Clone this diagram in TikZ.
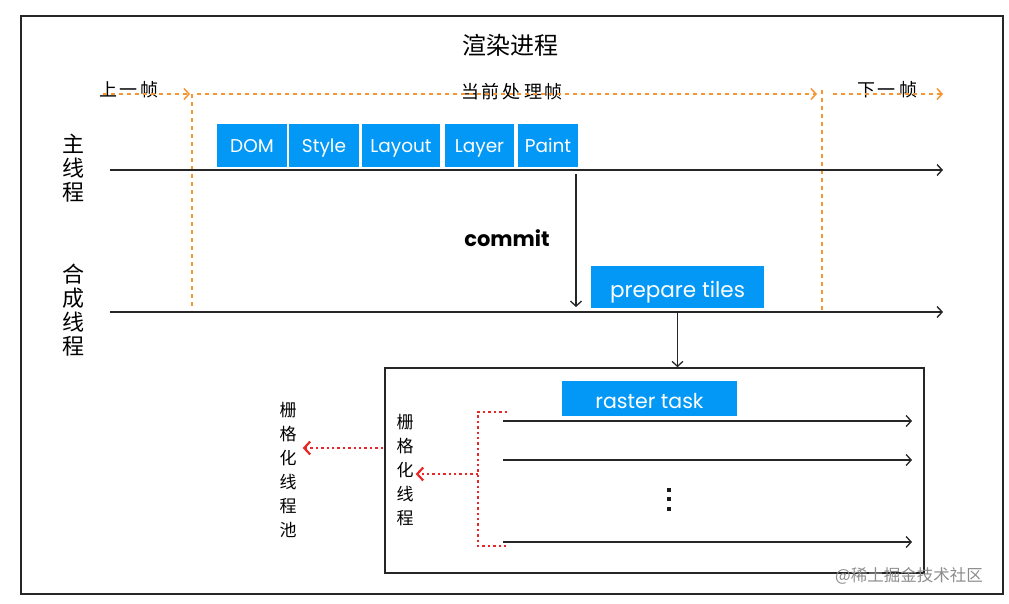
\documentclass[tikz,border=0pt]{standalone}
\usepackage{fontspec}
\setmainfont{Poppins}
\newfontfamily\cjk{Noto Sans CJK SC}
\usetikzlibrary{arrows.meta}
\definecolor{tblue}{RGB}{3,152,246}
\definecolor{tor}{RGB}{245,150,50}
\definecolor{tred}{RGB}{232,40,40}
\tikzset{
  box/.style={fill=tblue, text=white, inner sep=0pt, text height=17pt, text depth=2pt, font=\fontsize{18.5}{20}\selectfont},
  frameline/.style={draw=tor, line width=1.5pt, dash pattern=on 4pt off 4pt},
  framearr/.style={frameline, -{Straight Barb[length=5pt,width=11pt,line width=1.5pt]}},
  axis/.style={draw=black!85, line width=1.6pt, -{Straight Barb[length=5pt,width=11pt,line width=1.4pt]}},
  thin/.style={draw=black!85, line width=1.3pt, -{Straight Barb[length=5pt,width=11pt,line width=1.3pt]}},
  reddot/.style={draw=tred, line width=2.4pt, dash pattern=on 2.4pt off 3pt},
  redarr/.style={reddot, -{Straight Barb[length=6pt,width=13pt,line width=2.2pt]}},
  cjklab/.style={font=\cjk\fontsize{18}{19}\selectfont, inner sep=0pt},
  vlab/.style={font=\cjk\fontsize{17}{24}\selectfont, align=center, inner sep=0pt},
  vdot/.style={fill=black!90},
}
\begin{document}
\begin{tikzpicture}[x=1pt,y=-1pt]
\useasboundingbox (0,0) rectangle (1009,604);
% outer frame
\node[draw=black!85, line width=1.5pt, minimum width=982pt, minimum height=578pt, inner sep=0pt] (frame) at (512,305) {};
% title
\node[font=\cjk\fontsize{24}{26}\selectfont] (title) at (510,45) {渲染进程};
% frame labels
\node[cjklab] (prev) at (129,90) {上\,一\,帧};
\node[cjklab] (cur) at (512,92) {当\,前\,处\,理\,帧};
\node[cjklab] (next) at (887,90) {下\,一\,帧};
\coordinate (p0) at (103,94);
\coordinate (p1) at (190,94);
\coordinate (c0) at (197,94);
\coordinate (c1) at (817,94);
\coordinate (n0) at (833,94);
\coordinate (n1) at (943,94);
\coordinate (v1t) at (192,94);
\coordinate (v1b) at (192,310);
\coordinate (v2t) at (822,90);
\coordinate (v2b) at (822,310);
\draw[framearr] (p0) -- (p1);
\draw[framearr] (c0) -- (c1);
\draw[framearr] (n0) -- (n1);
\draw[frameline] (v1t) -- (v1b);
\draw[frameline] (v2t) -- (v2b);
% thread labels
\node[font=\cjk\fontsize{22}{24}\selectfont, align=center, inner sep=0pt] (mainlab) at (73,168) {主\\线\\程};
\node[font=\cjk\fontsize{22}{24}\selectfont, align=center, inner sep=0pt] (complab) at (73,310) {合\\成\\线\\程};
% timelines
\coordinate (m0) at (110,170);
\coordinate (m1) at (943,170);
\coordinate (k0) at (110,312);
\coordinate (k1) at (943,312);
\draw[axis] (m0) -- (m1);
\draw[axis] (k0) -- (k1);
% main thread tasks
\node[box, minimum width=70pt, minimum height=43pt] (dom) at (252,145.5) {DOM};
\node[box, minimum width=70pt, minimum height=43pt] (style) at (324,145.5) {Style};
\node[box, minimum width=78pt, minimum height=43pt] (layout) at (401,145.5) {Layout};
\node[box, minimum width=69pt, minimum height=43pt] (layer) at (479.5,145.5) {Layer};
\node[box, minimum width=60pt, minimum height=43pt] (paint) at (548,145.5) {Paint};
% commit
\coordinate (cm0) at (576,174);
\coordinate (cm1) at (576,307);
\draw[thin] (cm0) -- (cm1);
\node[font=\fontsize{21}{23}\selectfont\bfseries] (commit) at (507,238) {commit};
% prepare tiles
\node[box, font=\fontsize{21.5}{23}\selectfont, text height=22pt, text depth=2pt, minimum width=173pt, minimum height=42pt] (pt) at (677.5,287) {prepare tiles};
% raster pool box
\node[draw=black!85, line width=1.6pt, minimum width=539pt, minimum height=205pt, inner sep=0pt] (pool) at (654.5,470.5) {};
\draw[thin] ([yshift=-4pt]pt.south) -- (pool.north -| pt.south);
\node[box, font=\fontsize{20.5}{22}\selectfont, text height=21pt, text depth=1pt, minimum width=175pt, minimum height=35pt] (rt) at (649.5,398.5) {raster task};
\coordinate (t1a) at (503,421); \coordinate (t1b) at (912,421);
\coordinate (t2a) at (503,460); \coordinate (t2b) at (912,460);
\coordinate (t3a) at (503,542); \coordinate (t3b) at (912,542);
\draw[thin] (t1a) -- (t1b);
\draw[thin] (t2a) -- (t2b);
\draw[thin] (t3a) -- (t3b);
% vertical ellipsis
\fill[vdot] (667,488) rectangle (671,492);
\fill[vdot] (667,497) rectangle (671,501);
\fill[vdot] (667,507) rectangle (671,511);
% red bracket
\coordinate (b0) at (507,412);
\coordinate (b1) at (478,412);
\coordinate (b2) at (478,546);
\coordinate (b3) at (507,546);
\coordinate (bm) at (478,474);
\draw[reddot] (b0) -- (b1) -- (b2) -- (b3);
\node[vlab] (rthread) at (405,470.5) {栅\\格\\化\\线\\程};
\draw[redarr] (bm) -- ([xshift=2pt]rthread.east |- bm);
\node[vlab] (rpool) at (288,470) {栅\\格\\化\\线\\程\\池};
\coordinate (pl) at (383,448);
\draw[redarr] (pl) -- ([xshift=6pt]rpool.east |- pl);
% watermark
\node[font=\cjk\fontsize{16.5}{18}\selectfont, text=black!45, inner sep=0pt] (wm) at (909,576) {@稀土掘金技术社区};
\end{tikzpicture}
\end{document}
